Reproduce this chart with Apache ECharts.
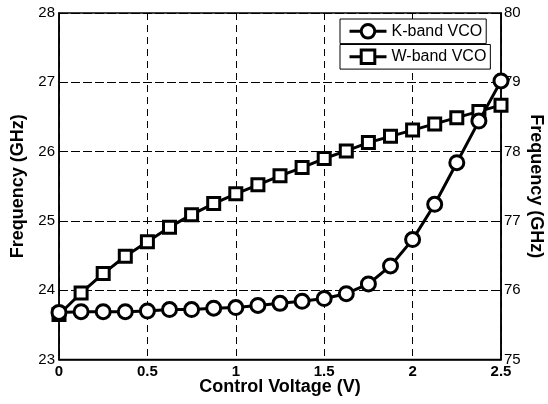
<!DOCTYPE html>
<html>
<head>
<meta charset="utf-8">
<script src="https://cdn.jsdelivr.net/npm/echarts@6/dist/echarts.min.js"></script>
<style>
html,body{margin:0;padding:0;background:#fff;}
#c{width:548px;height:404px;}
</style>
</head>
<body>
<div id="c"></div>
<script>
var voltage = [0, 0.125, 0.25, 0.375, 0.5, 0.625, 0.75, 0.875, 1.0, 1.125, 1.25, 1.375, 1.5, 1.625, 1.75, 1.875, 2.0, 2.125, 2.25, 2.375, 2.5];
var kBand = [23.68, 23.69, 23.69, 23.69, 23.70, 23.72, 23.72, 23.74, 23.75, 23.78, 23.81, 23.84, 23.88, 23.95, 24.09, 24.35, 24.73, 25.24, 25.84, 26.44, 27.02];
var wBand = [75.65, 75.96, 76.24, 76.49, 76.70, 76.91, 77.09, 77.25, 77.39, 77.52, 77.65, 77.77, 77.90, 78.01, 78.13, 78.22, 78.31, 78.40, 78.49, 78.58, 78.67];
var seriesNames = ['K-band VCO', 'W-band VCO'];
var xTitle = 'Control Voltage (V)';
var yLeftTitle = 'Frequency (GHz)';
var yRightTitle = 'Frequency (GHz)';

function pairs(xs, ys) { return xs.map(function (x, i) { return [x, ys[i]]; }); }

var font = 'Liberation Sans, Arial, sans-serif';
var chart = echarts.init(document.getElementById('c'), null, { renderer: 'canvas' });

function legendBox(name, top) {
  return {
    data: [name],
    left: 340,
    top: top,
    orient: 'vertical',
    backgroundColor: '#fff',
    borderColor: '#000',
    borderWidth: 1,
    borderRadius: 0,
    padding: [4, 4, 4, 8],
    itemWidth: 37,
    itemHeight: 17,
    itemGap: 0,
    lineStyle: { width: 3, color: '#000' },
    itemStyle: { color: '#fff', borderColor: '#000', borderWidth: 3 },
    formatter: '{t|{name}}',
    textStyle: {
      fontFamily: font, fontSize: 16, color: '#000',
      rich: { t: { fontFamily: font, fontSize: 16, color: '#000', width: 97 } }
    },
    selectedMode: false
  };
}

var titleStyle = { fontFamily: font, fontSize: 18, fontWeight: 'bold', color: '#000' };

chart.setOption({
  animation: false,
  backgroundColor: '#fff',
  grid: { left: 59, right: 47, top: 13, bottom: 44.5, outerBoundsMode: 'none', containLabel: false, show: true, borderColor: '#000', borderWidth: 1.5, backgroundColor: 'transparent' },
  legend: [legendBox(seriesNames[0], 19), legendBox(seriesNames[1], 44.5)],
  xAxis: {
    type: 'value', min: 0, max: 2.5, interval: 0.5,
    name: xTitle, nameLocation: 'middle', nameGap: 19, nameMoveOverlap: false,
    nameTextStyle: titleStyle,
    axisLine: { show: true, lineStyle: { color: '#000', width: 1.5 } },
    axisTick: { show: false },
    axisLabel: { fontFamily: font, fontSize: 15, fontWeight: 'bold', color: '#000', margin: 5 },
    splitLine: { show: true, lineStyle: { color: '#000', width: 1, type: [7, 5] } }
  },
  yAxis: [
    {
      type: 'value', min: 23, max: 28, interval: 1, position: 'left',
      name: yLeftTitle, nameLocation: 'middle', nameGap: 32, nameRotate: 90, nameMoveOverlap: false,
      nameTextStyle: titleStyle,
      axisLine: { show: true, lineStyle: { color: '#000', width: 1.5 } },
      axisTick: { show: false },
      axisLabel: { fontFamily: font, fontSize: 15, color: '#000', margin: 4 },
      splitLine: { show: true, lineStyle: { color: '#000', width: 1, type: [9, 3] } }
    },
    {
      type: 'value', min: 75, max: 80, interval: 1, position: 'right',
      name: yRightTitle, nameLocation: 'middle', nameGap: 26, nameRotate: -90, nameMoveOverlap: false,
      nameTextStyle: titleStyle,
      axisLine: { show: true, lineStyle: { color: '#000', width: 1.5 } },
      axisTick: { show: false },
      axisLabel: { fontFamily: font, fontSize: 15, color: '#000', margin: 3 },
      splitLine: { show: false }
    }
  ],
  series: [
    {
      name: seriesNames[1], type: 'line', yAxisIndex: 1, data: pairs(voltage, wBand),
      symbol: 'rect', symbolSize: 12,
      lineStyle: { color: '#000', width: 3 },
      itemStyle: { color: '#fff', borderColor: '#000', borderWidth: 3 },
      z: 3
    },
    {
      name: seriesNames[0], type: 'line', yAxisIndex: 0, data: pairs(voltage, kBand),
      symbol: 'circle', symbolSize: 14,
      lineStyle: { color: '#000', width: 3 },
      itemStyle: { color: '#fff', borderColor: '#000', borderWidth: 3 },
      z: 4
    }
  ]
});
</script>
</body>
</html>
